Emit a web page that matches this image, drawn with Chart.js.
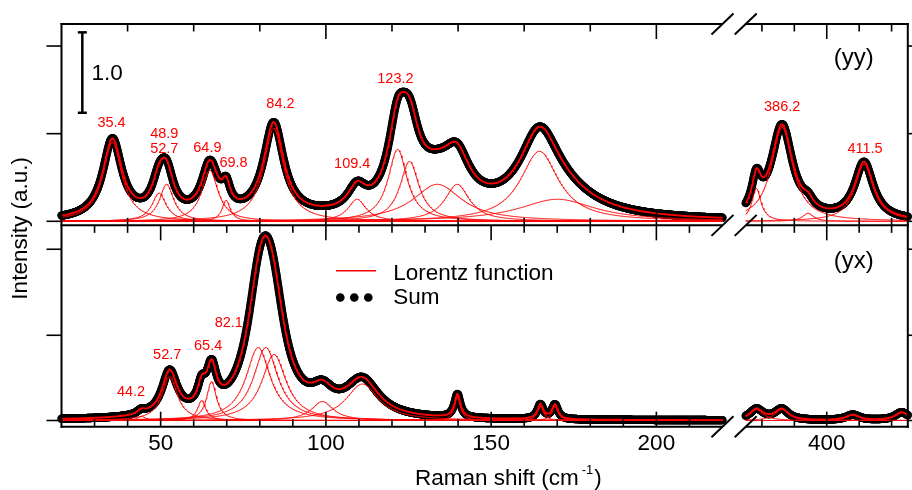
<!DOCTYPE html>
<html>
<head>
<meta charset="utf-8">
<script src="https://cdn.jsdelivr.net/npm/chart.js@4.4.0/dist/chart.umd.min.js"></script>
<style>
  html, body { margin: 0; padding: 0; background: #fff; }
</style>
</head>
<body>
<canvas id="ramanChart" width="912" height="490"></canvas>
<script>
// Lorentz components: centre (cm-1), height (a.u.), half width (cm-1)
const yyLowCentres  = [35.4, 49.5, 51.8, 64.9, 69.8, 84.2, 109.4, 121.7, 125.3, 133.7, 139.7, 164.6, 170.0];
const yyLowHeights  = [0.983, 0.350, 0.460, 0.634, 0.261, 1.157, 0.274, 0.896, 0.746, 0.460, 0.460, 0.871, 0.274];
const yyLowWidths   = [3.5, 2.6, 2.6, 3.0, 1.5, 3.7, 3.3, 3.5, 3.5, 9.0, 4.5, 7.0, 14.0];
const yyHighCentres = [378.3, 386.2, 394.2, 411.5];
const yyHighHeights = [0.410, 1.169, 0.100, 0.709];
const yyHighWidths  = [1.7, 4.0, 2.0, 3.5];

const yxLowCentres  = [44.2, 52.7, 62.4, 65.4, 79.5, 81.8, 84.3, 98.9, 111.0, 139.8, 164.9, 169.3];
const yxLowHeights  = [0.050, 0.547, 0.249, 0.485, 0.908, 0.908, 0.821, 0.236, 0.454, 0.292, 0.179, 0.179];
const yxLowWidths   = [1.5, 2.8, 1.5, 1.8, 4.5, 4.5, 4.5, 4.0, 6.0, 1.1, 1.1, 1.1];
const yxHighCentres = [378.3, 386.1, 408.0, 423.1];
const yxHighHeights = [0.137, 0.137, 0.068, 0.100];
const yxHighWidths  = [2.5, 2.5, 2.5, 2.5];

// axis ranges of the broken x axis and tick values
const lowRange = [20, 220];
const highRange = [375, 425];
const xTickLabels = [50, 100, 150, 200, 400];
const majorTicks = [50, 100, 150, 200, 400];
const yyTickValues = [40, 60, 80, 100, 120, 140, 160, 180, 200, 380, 390, 400, 410, 420];
const yxTickValues = [30, 40, 50, 60, 70, 80, 90, 100, 110, 120, 130, 140, 150, 160, 170, 180, 190, 200, 210, 380, 390, 400, 410, 420];
const yyLevels = [0, 1.09, 2.18];
const yxLevels = [0, 1.06, 2.13];

const yyPeakText = ["35.4", "48.9", "52.7", "64.9", "69.8", "84.2", "109.4", "123.2", "386.2", "411.5"];
const yxPeakText = ["44.2", "52.7", "65.4", "82.1"];

const RED = "#ff0000";
const FONT = '"Liberation Sans", Arial, Helvetica, sans-serif';

// the high segment is drawn a little narrower per cm-1, after a small gap
const GAP = 7.03;
const HIGH_K = 0.981;
function toU(x) {
  return x <= lowRange[1] + 1 ? x : lowRange[1] + GAP + (x - highRange[0]) * HIGH_K;
}
const U_MAX = toU(highRange[1]);

function lorentz(x, c, h, w) {
  const d = x - c;
  return h * w * w / (d * d + w * w);
}

function samples(range, step) {
  const xs = [];
  for (let x = range[0]; x <= range[1] + 1e-9; x += step) xs.push(+x.toFixed(3));
  return xs;
}

const datasets = [];

function addSegment(axisId, range, centres, heights, widths) {
  const xs = samples(range, 0.2);
  centres.forEach((c, i) => {
    datasets.push({
      data: xs.map(x => ({ x: toU(x), y: lorentz(x, c, heights[i], widths[i]) })),
      yAxisID: axisId, borderColor: RED, borderWidth: 1, pointRadius: 0, order: 1
    });
  });
  const total = x => centres.reduce((s, c, i) => s + lorentz(x, c, heights[i], widths[i]), 0);
  datasets.push({
    data: xs.map(x => ({ x: toU(x), y: total(x) })),
    yAxisID: axisId, borderColor: RED, borderWidth: 1.8, pointRadius: 0, order: 0
  });
  const dotXs = samples(range, 0.1);
  datasets.push({
    data: dotXs.map(x => ({ x: toU(x), y: total(x) })),
    yAxisID: axisId, showLine: false, pointRadius: 4.2, pointBorderWidth: 0,
    pointBackgroundColor: "#000", pointBorderColor: "#000", order: 2, clip: 10
  });
}

addSegment("yTop", lowRange, yyLowCentres, yyLowHeights, yyLowWidths);
addSegment("yTop", highRange, yyHighCentres, yyHighHeights, yyHighWidths);
addSegment("yBottom", lowRange, yxLowCentres, yxLowHeights, yxLowWidths);
addSegment("yBottom", highRange, yxHighCentres, yxHighHeights, yxHighWidths);

// where the peak labels sit (cm-1, a.u.)
const yyPeakAt = [[35.15, 1.235], [51.09, 1.098], [51.09, 0.912], [64.15, 0.924], [72.06, 0.741],
  [86.25, 1.471], [107.98, 0.731], [121.05, 1.789], [386.25, 1.435], [411.8, 0.918]];
const yxPeakAt = [[41.04, 0.364], [51.99, 0.827], [64.37, 0.939], [70.61, 1.229]];

function line(ctx, x1, y1, x2, y2) {
  ctx.beginPath(); ctx.moveTo(x1, y1); ctx.lineTo(x2, y2); ctx.stroke();
}

const framePlugin = {
  id: "frame",
  afterDraw(chart) {
    const { ctx, chartArea: a } = chart;
    const xs = chart.scales.x, yT = chart.scales.yTop, yB = chart.scales.yBottom;
    const px = v => xs.getPixelForValue(toU(v));
    const xL0 = px(lowRange[0]), xL1 = px(lowRange[1]);
    const xH0 = px(highRange[0]), xH1 = px(highRange[1]);
    const yTopLine = yT.top, yMid = yT.bottom, yBot = yB.bottom;

    ctx.save();
    ctx.strokeStyle = "#000";
    ctx.lineWidth = 2;
    [yTopLine, yMid, yBot].forEach(y => {
      line(ctx, xL0 - 1, y, xL1, y);
      line(ctx, xH0, y, xH1 + 1, y);
      // break marks
      line(ctx, xL1 - 11, y + 10.5, xL1 + 11, y - 10.5);
      line(ctx, xH0 - 11, y + 10.5, xH0 + 11, y - 10.5);
    });
    line(ctx, a.left, yTopLine - 1, a.left, yBot + 1);
    line(ctx, a.right, yTopLine - 1, a.right, yBot + 1);

    ctx.lineWidth = 1.6;
    const tickLen = v => majorTicks.includes(v) ? 15 : 7.5;
    yyTickValues.forEach(v => {
      const p = px(v);
      line(ctx, p, yTopLine, p, yTopLine + tickLen(v));
      line(ctx, p, yMid, p, yMid - tickLen(v));
    });
    yxTickValues.forEach(v => {
      const p = px(v);
      line(ctx, p, yMid, p, yMid + tickLen(v));
      line(ctx, p, yBot, p, yBot - tickLen(v));
    });
    yyLevels.forEach(v => {
      const p = yT.getPixelForValue(v);
      line(ctx, a.left - 15, p, a.left, p);
      line(ctx, a.right, p, a.right + 15, p);
    });
    yxLevels.forEach(v => {
      const p = yB.getPixelForValue(v);
      line(ctx, a.left - 15, p, a.left, p);
      line(ctx, a.right, p, a.right + 15, p);
    });

    // scale bar of 1.0
    const sbX = px(26.3), sbB = yT.getPixelForValue(1.35), sbT = yT.getPixelForValue(2.35);
    ctx.lineWidth = 2.5;
    line(ctx, sbX, sbT, sbX, sbB);
    line(ctx, sbX - 4.5, sbT, sbX + 4.5, sbT);
    line(ctx, sbX - 4.5, sbB, sbX + 4.5, sbB);
    ctx.fillStyle = "#000";
    ctx.font = "22.5px " + FONT;
    ctx.textAlign = "left";
    ctx.fillText("1.0", px(29.1), yT.getPixelForValue(1.861) + 8);

    // peak labels
    ctx.fillStyle = RED;
    ctx.font = "14.5px " + FONT;
    ctx.textAlign = "center";
    yyPeakText.forEach((t, i) => {
      ctx.fillText(t, px(yyPeakAt[i][0]), yT.getPixelForValue(yyPeakAt[i][1]) + 5.2);
    });
    yxPeakText.forEach((t, i) => {
      ctx.fillText(t, px(yxPeakAt[i][0]), yB.getPixelForValue(yxPeakAt[i][1]) + 5.2);
    });

    // polarisation tags
    ctx.fillStyle = "#000";
    ctx.font = "24px " + FONT;
    ctx.fillText("(yy)", px(408.3), yT.getPixelForValue(2.027) + 6.2);
    ctx.fillText("(yx)", px(408.3), yB.getPixelForValue(1.975) + 6.2);

    // legend
    const lgX = px(103.06), lgY1 = yB.getPixelForValue(1.863), lgY2 = yB.getPixelForValue(1.53);
    ctx.strokeStyle = RED;
    ctx.lineWidth = 1.5;
    line(ctx, lgX, lgY1, lgX + 40, lgY1);
    ctx.fillStyle = "#000";
    [4.3, 18.3, 32.3].forEach(dx => {
      ctx.beginPath(); ctx.arc(lgX + dx, lgY2, 4.3, 0, Math.PI * 2); ctx.fill();
    });
    ctx.font = "22.5px " + FONT;
    ctx.textAlign = "left";
    ctx.fillText("Lorentz function", lgX + 57.3, lgY1 + 9);
    ctx.fillText("Sum", lgX + 57.3, lgY2 + 7);

    // axis titles
    const tx = a.left + 353.5, ty = 485;
    ctx.fillText("Raman shift (cm", tx, ty);
    const w1 = ctx.measureText("Raman shift (cm").width;
    ctx.font = "13px " + FONT;
    ctx.fillText("-1", tx + w1 + 3, ty - 11);
    const w2 = ctx.measureText("-1").width;
    ctx.font = "22.5px " + FONT;
    ctx.fillText(")", tx + w1 + w2 + 4, ty);

    ctx.translate(27, (yTopLine + yBot) / 2 + 3);
    ctx.rotate(-Math.PI / 2);
    ctx.textAlign = "center";
    ctx.fillText("Intensity (a.u.)", 0, 0);
    ctx.restore();
  }
};

new Chart(document.getElementById("ramanChart"), {
  type: "line",
  data: { datasets },
  options: {
    responsive: false,
    animation: false,
    events: [],
    layout: { padding: { left: 61.5, right: 2.05, top: 24, bottom: 0 } },
    elements: { line: { tension: 0 } },
    plugins: { legend: { display: false }, tooltip: { enabled: false } },
    scales: {
      x: {
        type: "linear", position: "bottom", min: lowRange[0], max: U_MAX,
        grid: { display: false, drawTicks: false },
        border: { display: false },
        afterBuildTicks: s => { s.ticks = xTickLabels.map(v => ({ value: toU(v) })); },
        afterFit: s => { s.height = 63.3; },
        ticks: {
          autoSkip: false, maxRotation: 0, padding: 4, color: "#000",
          font: { family: FONT, size: 22.5 },
          callback: (v, i) => String(xTickLabels[i])
        }
      },
      yBottom: { type: "linear", position: "left", stack: "panels", stackWeight: 1, min: -0.0771, max: 2.4272, display: false },
      yTop: { type: "linear", position: "left", stack: "panels", stackWeight: 1, min: -0.0504, max: 2.4540, display: false }
    }
  },
  plugins: [framePlugin]
});
</script>
</body>
</html>
